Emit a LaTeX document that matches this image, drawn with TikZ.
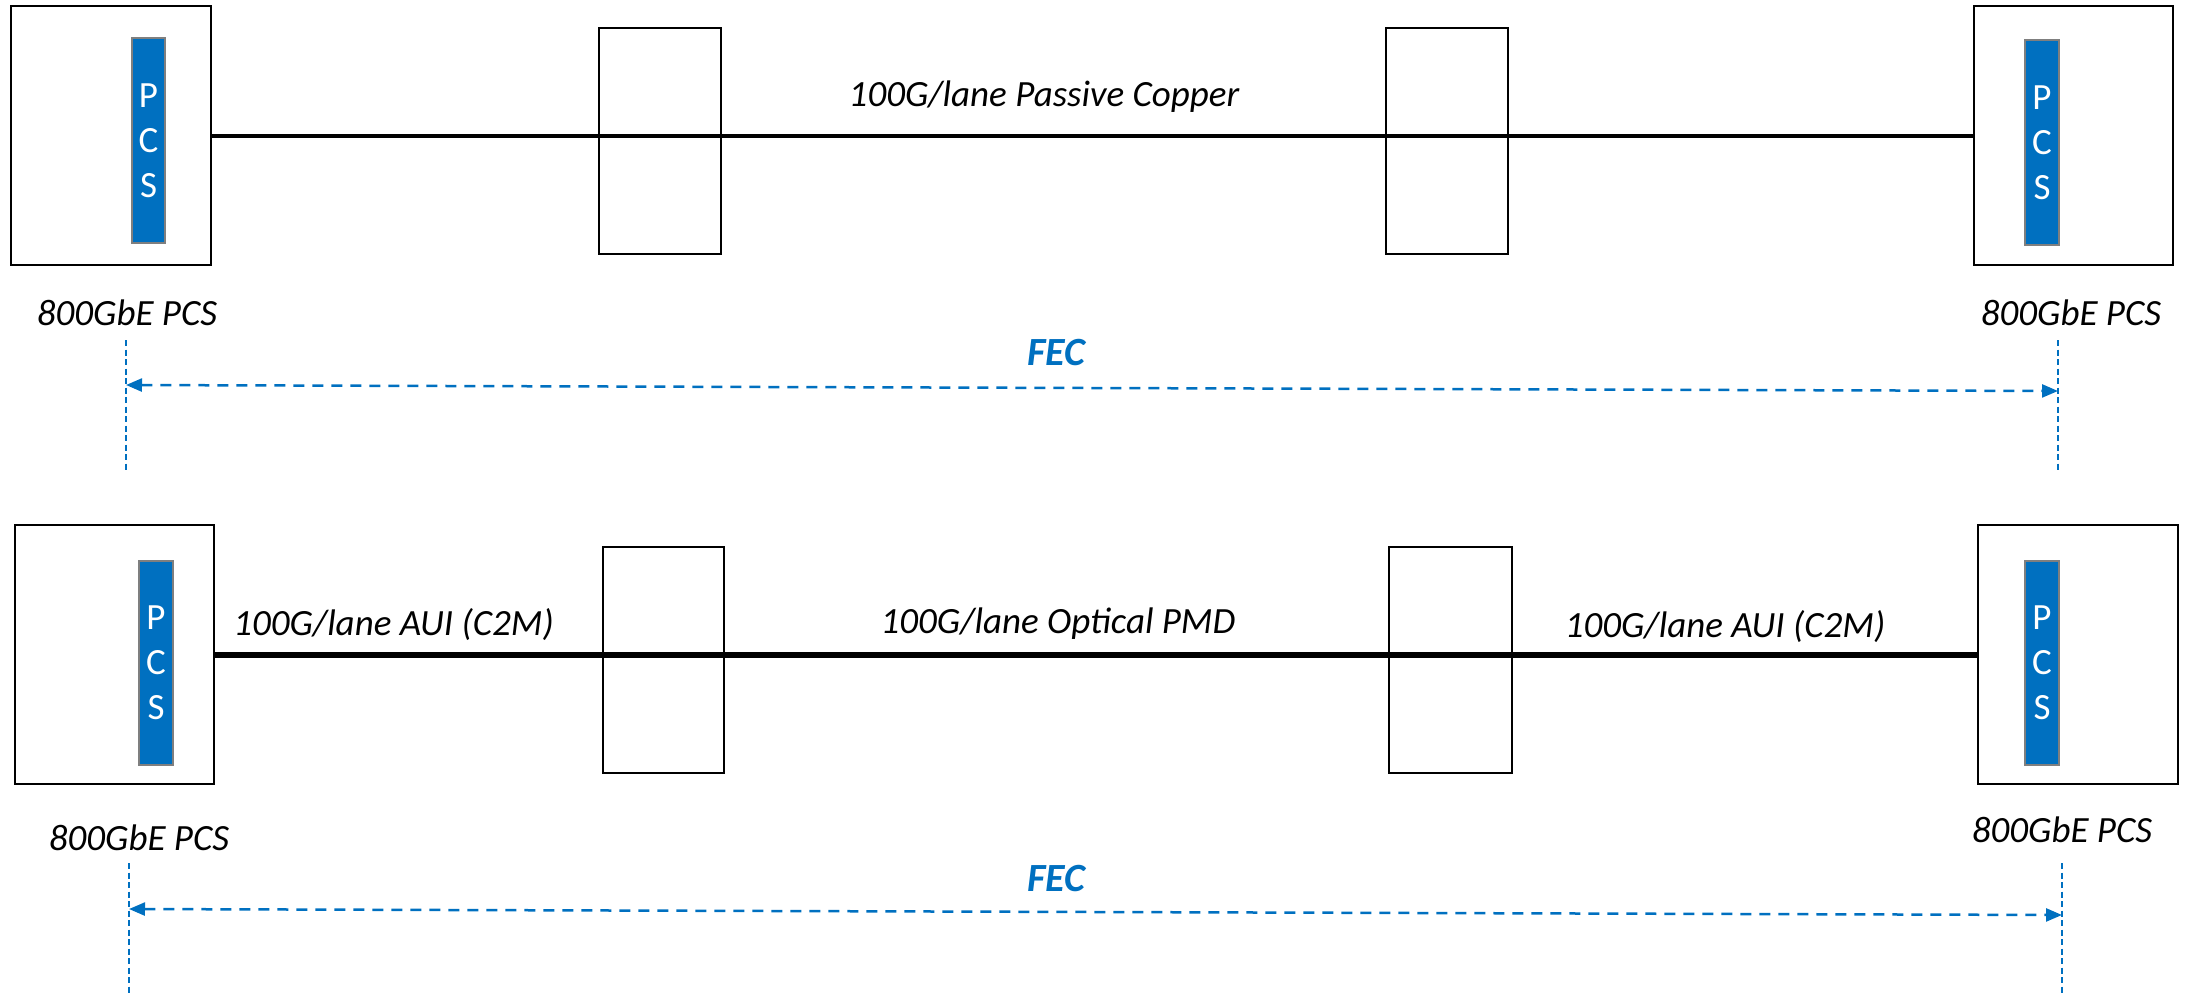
\documentclass[tikz,border=0pt]{standalone}
\usepackage{fontspec}
\setmainfont{Carlito}
\usetikzlibrary{arrows.meta}
\definecolor{pcsblue}{HTML}{0070C0}
\definecolor{pcsgray}{HTML}{7F7F7F}
\definecolor{fecblue}{HTML}{0070C0}
\tikzset{
  bigbox/.style={draw=black, line width=2pt, minimum width=200, minimum height=259, inner sep=0pt},
  midbox/.style={draw=black, line width=2pt, minimum width=122, minimum height=226, inner sep=0pt},
  pcsbox/.style={draw=pcsgray, fill=pcsblue, line width=2.5pt, minimum width=33, minimum height=205, inner sep=0pt,
     text=white, align=center, font=\fontsize{37}{45}\selectfont},
  lbl/.style={font=\fontsize{37}{44}\selectfont\itshape, inner sep=0pt},
  feclbl/.style={font=\fontsize{40}{46}\selectfont\bfseries\itshape, text=fecblue, inner sep=0pt},
  thinlink/.style={draw=black, line width=4pt},
  thicklink/.style={draw=black, line width=6pt},
  guide/.style={draw=fecblue, line width=1.3pt, dash pattern=on 6pt off 3.5pt},
  fecarrow/.style={draw=fecblue, line width=2.5pt, dash pattern=on 11pt off 8pt,
     {Triangle[length=16pt,width=13pt]}-{Triangle[length=16pt,width=13pt]}}
}
\begin{document}
\begin{tikzpicture}[x=1pt,y=-1pt]
\useasboundingbox (0,0) rectangle (2187,993);
% ---------- top row ----------
\node[bigbox] (L1) at (111,135.5) {};
\node[bigbox, minimum width=199] (R1) at (2073.5,135.5) {};
\draw[thinlink] (L1) -- (R1);
\node[midbox] (M1a) at (660,141) {};
\node[midbox] (M1b) at (1447,141) {};
\node[pcsbox] (P1) at (148.5,140.5) {P\\C\\S};
\node[pcsbox, minimum width=34] (P1r) at (2042,142.5) {P\\C\\S};
\node[lbl] (cu) at (1044,97) {100G/lane Passive Copper};
\node[lbl] (pcsL1) at (127,313) {800GbE PCS};
\node[lbl] (pcsR1) at (2071,313) {800GbE PCS};
\node[feclbl] (fec1) at (1056,353) {FEC};
\coordinate (vL1a) at (126,340);
\coordinate (vL1b) at (126,470);
\coordinate (vR1a) at (2058,340);
\coordinate (vR1b) at (2058,470);
\draw[guide] (vL1a) -- (vL1b);
\draw[guide] (vR1a) -- (vR1b);
\coordinate (aL1) at (126,385);
\coordinate (aR1) at (2058,391);
\draw[fecarrow] (aL1) -- (aR1);
% ---------- bottom row ----------
\node[bigbox, minimum width=199] (L2) at (114.5,654.5) {};
\node[bigbox] (R2) at (2078,654.5) {};
\draw[thicklink] (L2) -- (R2);
\node[midbox, minimum width=121] (M2a) at (663.5,660) {};
\node[midbox, minimum width=123] (M2b) at (1450.5,659.5) {};
\node[pcsbox, minimum width=34, minimum height=204] (P2) at (156,663) {P\\C\\S};
\node[pcsbox, minimum width=34, minimum height=204] (P2r) at (2042,663) {P\\C\\S};
\node[lbl] (auiL) at (393.5,625) {100G/lane AUI (C2M)};
\node[lbl] (pmd) at (1058,624) {100G/lane Optical PMD};
\node[lbl] (auiR) at (1725,627) {100G/lane AUI (C2M)};
\node[lbl] (pcsL2) at (139,838) {800GbE PCS};
\node[lbl] (pcsR2) at (2062,830) {800GbE PCS};
\node[feclbl] (fec2) at (1056,879) {FEC};
\coordinate (vL2a) at (129,863);
\coordinate (vL2b) at (129,993);
\coordinate (vR2a) at (2062,863);
\coordinate (vR2b) at (2062,993);
\draw[guide] (vL2a) -- (vL2b);
\draw[guide] (vR2a) -- (vR2b);
\coordinate (aL2) at (129,909);
\coordinate (aR2) at (2062,915);
\draw[fecarrow] (aL2) -- (aR2);
\end{tikzpicture}
\end{document}
